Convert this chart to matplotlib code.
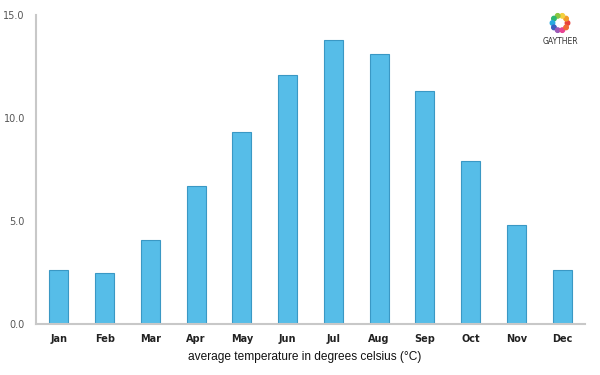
import matplotlib
matplotlib.use("Agg")
import matplotlib.pyplot as plt
from matplotlib.patches import Ellipse
import numpy as np

months = ["Jan", "Feb", "Mar", "Apr", "May", "Jun", "Jul", "Aug", "Sep", "Oct", "Nov", "Dec"]
temps = [2.6, 2.5, 4.1, 6.7, 9.3, 12.1, 13.8, 13.1, 11.3, 7.9, 4.8, 2.6]
yticks = [0.0, 5.0, 10.0, 15.0]

fig = plt.figure(figsize=(6, 3.75), dpi=100)
ax = fig.add_axes([0.06, 0.136, 0.915, 0.824])

x = np.arange(len(months))
ax.bar(x, temps, width=0.42, color="#56bde8", edgecolor="#3a98c4", linewidth=0.8)

ax.set_xlim(-0.5, len(months) - 0.5)
ax.set_ylim(0, 15)
ax.set_xticks(x)
ax.set_xticklabels(months, fontsize=7, fontweight="bold", color="#222222")
ax.set_yticks(yticks)
ax.set_yticklabels([f"{v:.1f}" for v in yticks], fontsize=7, color="#555555")
ax.tick_params(length=0, pad=8)
ax.tick_params(axis="x", pad=7)

for side in ["top", "right"]:
    ax.spines[side].set_visible(False)
for side in ["left", "bottom"]:
    ax.spines[side].set_color("#c8c8c8")
    ax.spines[side].set_linewidth(1.5)

fig.text(0.508, 0.047, "average temperature in degrees celsius (\u00b0C)",
         ha="center", va="center", fontsize=8.6, color="#111111",
         family="Liberation Sans")

# logo
logo_colors = ["#e8423c", "#f39b2a", "#f4d03f", "#8cc63f", "#2bb673",
               "#27aae1", "#3b5fc0", "#9b59b6", "#e84393", "#f06a35"]
cx, cy = 560 / 600, 1 - 23 / 375
for i, c in enumerate(logo_colors):
    a = 2 * np.pi * i / len(logo_colors)
    fig.patches.append(Ellipse((cx + 7.5 * np.cos(a) / 600, cy + 7.5 * np.sin(a) / 375),
                               4.5 / 600, 4.5 / 375, color=c,
                               transform=fig.transFigure, figure=fig))
fig.text(cx, 1 - 41 / 375, "GAYTHER", ha="center", va="center", fontsize=5.5,
         color="#333333")

fig.savefig("out.png", dpi=100)
